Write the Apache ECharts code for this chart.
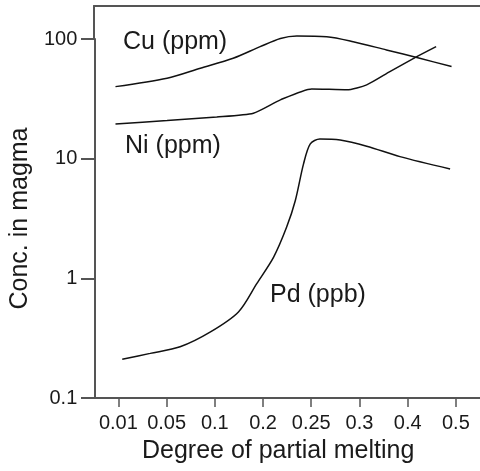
<!DOCTYPE html>
<html>
<head>
<meta charset="utf-8">
<script src="https://cdn.jsdelivr.net/npm/echarts@6/dist/echarts.min.js"></script>
<style>html,body{margin:0;padding:0;background:#fff}#c{width:480px;height:471px}</style>
</head>
<body>
<div id="c"></div>
<script>
// x positions are in tick-index units (0 = "0.01", 7 = "0.5")
const xTickLabels = ['0.01', '0.05', '0.1', '0.2', '0.25', '0.3', '0.4', '0.5'];
const xTickIndex = [0, 1, 2, 3, 4, 5, 6, 7];

const cuX = [-0.06, 1.01, 1.70, 2.38, 2.94, 3.36, 3.70, 4.32, 4.87, 5.56, 6.25, 6.91];
const cuY = [40.0, 47.0, 57.0, 69.0, 86.3, 101, 106, 104.5, 95, 81, 69, 58.8];

const niX = [-0.06, 1.01, 2.04, 2.80, 3.36, 4.01, 4.74, 5.15, 5.63, 6.19, 6.59];
const niY = [19.5, 20.8, 22.3, 24.0, 31.0, 38.3, 37.6, 41.4, 53.4, 71.2, 86.3];

const pdX = [0.08, 0.66, 1.28, 1.91, 2.49, 2.87, 3.22, 3.49, 3.67, 3.84, 3.98, 4.18, 4.60, 5.15, 5.84, 6.88];
const pdY = [0.211, 0.236, 0.268, 0.357, 0.524, 0.904, 1.505, 2.68, 4.47, 9.04, 13.3, 14.6, 14.3, 12.7, 10.4, 8.2];

const seriesNames = ['Cu (ppm)', 'Ni (ppm)', 'Pd (ppb)'];

const zip = (xs, ys) => xs.map((x, i) => [x, ys[i]]);
const FONT = '"Liberation Sans", Arial, sans-serif';
const AX = '#555555';
const TXT = '#1a1a1a';

const chart = echarts.init(document.getElementById('c'), null, {renderer: 'canvas'});
const lineStyle = {color: '#111', width: 1.5};
chart.setOption({
  animation: false,
  backgroundColor: '#fff',
  grid: [
    {left: 94, right: 0, top: 39, bottom: 73},
    {left: 94, right: 0, top: 6, height: 33},
    {left: 81, width: 13, top: 39, bottom: 73}
  ],
  xAxis: [{
    gridIndex: 0, type: 'value', min: -0.5, max: 7.5, position: 'bottom',
    axisLine: {show: true, onZero: false, lineStyle: {color: AX, width: 2}},
    axisTick: {show: true, length: 9, customValues: xTickIndex, lineStyle: {color: AX, width: 1.5}},
    axisLabel: {customValues: xTickIndex, margin: 15, color: TXT, fontSize: 20, fontFamily: FONT,
      formatter: v => xTickLabels[Math.round(v)]},
    splitLine: {show: false},
    name: 'Degree of partial melting', nameLocation: 'middle', nameGap: 41,
    nameTextStyle: {color: TXT, fontSize: 25, fontFamily: FONT, padding: [0, 18, 0, 0]}
  }, {
    gridIndex: 1, type: 'value', min: -0.5, max: 7.5, position: 'top',
    axisLine: {show: true, onZero: false, lineStyle: {color: AX, width: 2}},
    axisTick: {show: false}, axisLabel: {show: false}, splitLine: {show: false}
  }, {
    gridIndex: 2, type: 'value', min: 0, max: 1,
    axisLine: {show: false}, axisTick: {show: false}, axisLabel: {show: false}, splitLine: {show: false}
  }],
  yAxis: [{
    gridIndex: 0, type: 'log', logBase: 10, min: 0.1, max: 100, position: 'left',
    axisLine: {show: true, onZero: false, lineStyle: {color: AX, width: 2}},
    axisTick: {show: true, inside: false, length: 13, lineStyle: {color: AX, width: 2}},
    axisLabel: {margin: 17, color: TXT, fontSize: 20, fontFamily: FONT},
    minorTick: {show: false},
    splitLine: {show: false},
    name: 'Conc. in magma', nameLocation: 'middle', nameGap: 60,
    nameTextStyle: {color: TXT, fontSize: 25, fontFamily: FONT}
  }, {
    gridIndex: 1, type: 'value', min: 0, max: 1,
    axisLine: {show: true, onZero: false, lineStyle: {color: AX, width: 2}},
    axisTick: {show: false}, axisLabel: {show: false}, splitLine: {show: false}
  }, {
    // tick marks of the log axis, drawn as grid lines in a narrow strip left of the axis
    gridIndex: 2, type: 'log', logBase: 10, min: 0.1, max: 100,
    axisLine: {show: false}, axisTick: {show: false}, axisLabel: {show: false},
    splitLine: {show: true, lineStyle: {color: AX, width: 2}}
  }],
  series: [
    {name: seriesNames[0], type: 'line', data: zip(cuX, cuY), showSymbol: false, smooth: 0.3, clip: false, lineStyle},
    {name: seriesNames[1], type: 'line', data: zip(niX, niY), showSymbol: false, smooth: 0.2, clip: false, lineStyle},
    {name: seriesNames[2], type: 'line', data: zip(pdX, pdY), showSymbol: false, smooth: 0.3, clip: false, lineStyle}
  ],
  graphic: [
    {type: 'text', left: 123, top: 30, style: {text: seriesNames[0], fontSize: 25, fontFamily: FONT, fill: TXT}},
    {type: 'text', left: 125, top: 134, style: {text: seriesNames[1], fontSize: 25, fontFamily: FONT, fill: TXT}},
    {type: 'text', left: 270, top: 283, style: {text: seriesNames[2], fontSize: 25, fontFamily: FONT, fill: TXT}}
  ]
});
</script>
</body>
</html>
